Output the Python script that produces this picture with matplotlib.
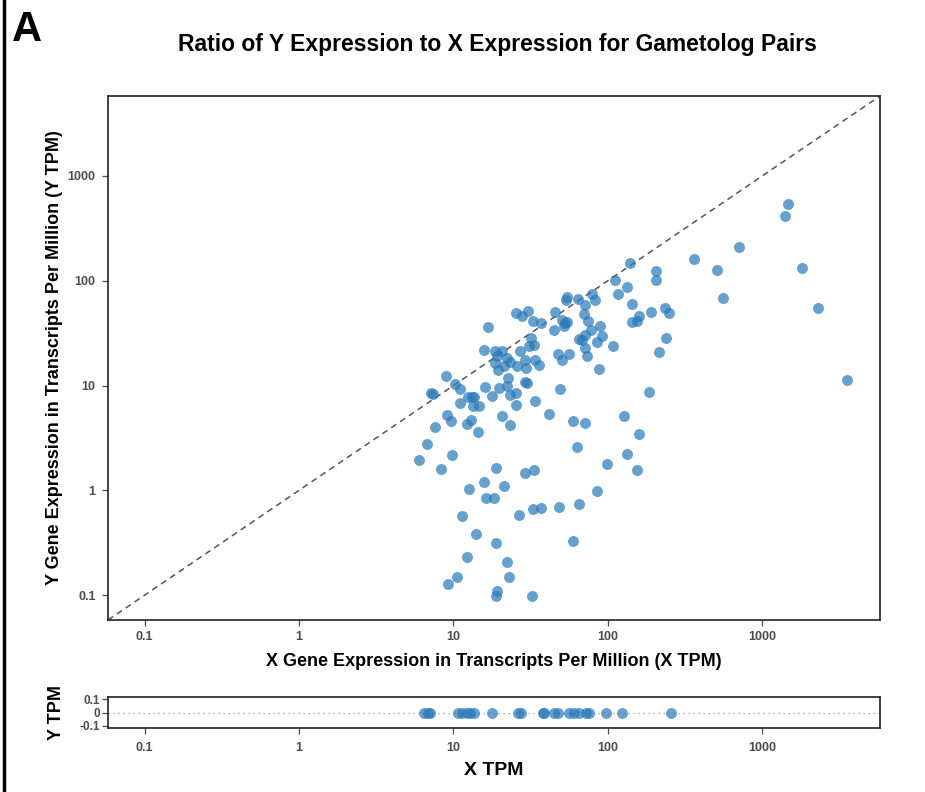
import matplotlib
matplotlib.use("Agg")
import matplotlib.pyplot as plt
from matplotlib.lines import Line2D

plt.rcParams['font.family'] = ['Liberation Sans', 'DejaVu Sans']

# gametolog pairs with Y expression > 0 (TPM)
x_tpm = [1476, 1400, 708, 361, 512, 1803, 560, 2311, 3563, 139,
         111, 206, 206, 134, 116, 79.2, 82.1, 71.1, 143, 191,
         236, 250, 159, 143, 155, 70.3, 74.6, 88.9, 77.7, 71.3,
         67.6, 65.0, 91.6, 84.6, 71.3, 72.9, 108, 238, 214, 87.5,
         184, 128, 71.1, 160,
         54.1, 53.3, 64.0, 25.6, 30.5, 28.0, 45.2, 32.9, 37.0, 50.6,
         52.7, 54.1, 52.2, 45.0, 16.7, 31.6, 33.2, 30.8, 27.2, 15.9,
         18.5, 20.5, 19.1, 22.1, 23.2, 21.4, 18.7, 19.6, 25.9, 29.3,
         33.7, 35.9, 29.6, 47.7, 50.4, 55.7, 8.93, 10.2, 11.0, 7.17,
         7.36, 22.6, 22.1, 16.0, 19.8, 29.0, 29.8, 25.6, 23.2, 17.8,
         12.5, 13.2, 13.6, 11.1, 13.4, 14.7, 25.4, 34.0, 48.9, 9.06,
         9.72, 12.3, 13.0, 20.8, 23.2, 41.5, 59.4, 7.66,
         14.5, 6.75, 6.03, 9.86, 8.37, 63.0, 134, 155, 98.2, 18.8,
         15.7, 12.6, 28.9, 33.5, 21.4, 16.3, 18.3, 85.4, 11.3, 26.8,
         32.7, 37.0, 48.4, 65.3, 14.0, 18.8, 59.7, 12.2, 22.3, 10.5,
         9.29, 22.8, 19.3, 19.0, 32.1]
y_tpm = [537, 413, 209, 161, 128, 133, 67.8, 55.0, 11.2, 149,
         101, 123, 102, 86.3, 75.2, 74.1, 65.5, 58.2, 59.5, 50.7,
         55.0, 49.6, 46.4, 40.7, 41.0, 48.5, 41.6, 36.7, 34.1, 30.4,
         27.4, 28.0, 29.5, 26.2, 23.0, 19.3, 23.9, 28.5, 20.9, 14.4,
         8.77, 5.15, 4.37, 3.42,
         69.3, 64.9, 67.4, 49.2, 51.0, 45.7, 50.7, 41.6, 39.2, 42.5,
         39.5, 40.4, 36.7, 33.6, 36.5, 28.5, 24.2, 23.7, 21.2, 22.0,
         21.2, 21.2, 19.0, 18.4, 16.7, 15.5, 16.5, 14.0, 15.5, 17.4,
         17.7, 15.6, 14.6, 20.2, 17.7, 20.0, 12.3, 10.4, 9.30, 8.52,
         8.39, 11.8, 10.0, 9.63, 9.51, 10.8, 10.5, 8.52, 8.08, 7.91,
         7.85, 7.80, 7.85, 6.78, 6.45, 6.35, 6.55, 7.08, 9.30, 5.26,
         4.64, 4.32, 4.67, 5.18, 4.19, 5.33, 4.61, 4.04,
         3.57, 2.80, 1.97, 2.19, 1.61, 2.62, 2.22, 1.57, 1.77, 1.64,
         1.20, 1.02, 1.45, 1.57, 1.09, 0.845, 0.851, 0.993, 0.565, 0.578,
         0.664, 0.674, 0.700, 0.747, 0.387, 0.318, 0.327, 0.229, 0.208, 0.148,
         0.129, 0.148, 0.109, 0.0993, 0.0993]

# pairs with no Y expression (Y TPM = 0)
x_only = [6.5, 6.8, 7.1, 10.7, 11.3, 12.3, 12.9, 13.6, 17.7, 26.1,
          27.5, 37.8, 38.7, 45.0, 47.5, 55.7, 60.0, 64.9, 72.1, 76.0,
          97.7, 124, 255]

ticks = [0.1, 1, 10, 100, 1000]
tick_labels = ['0.1', '1', '10', '100', '1000']
lims = (0.058, 5800)

dot_color = '#2b7bba'
tick_color = '#4d4d4d'

fig = plt.figure(figsize=(9.25, 7.92), dpi=100)
ax = fig.add_axes([0.1168, 0.2172, 0.8346, 0.6616])
ax2 = fig.add_axes([0.1168, 0.0808, 0.8346, 0.0391])

# main scatter
ax.plot(lims, lims, linestyle=(0, (4, 3)), color='#555555', linewidth=1.1, zorder=1)
ax.scatter(x_tpm, y_tpm, s=62, color=dot_color, alpha=0.72, linewidths=0, zorder=2)
ax.set_xscale('log')
ax.set_yscale('log')
ax.set_xlim(lims)
ax.set_ylim(lims)
ax.set_xticks(ticks)
ax.set_xticklabels(tick_labels)
ax.set_yticks(ticks)
ax.set_yticklabels(tick_labels)
ax.minorticks_off()
ax.set_xlabel('X Gene Expression in Transcripts Per Million (X TPM)',
              fontsize=13, fontweight='bold', labelpad=7)
ax.set_ylabel('Y Gene Expression in Transcripts Per Million (Y TPM)',
              fontsize=13, fontweight='bold', labelpad=3)
fig.text(0.538, 1 - 44 / 792, 'Ratio of Y Expression to X Expression for Gametolog Pairs',
         fontsize=16.5, fontweight='bold', ha='center', va='center')

# strip of genes with zero Y expression
ax2.axhline(0, color='#999999', linestyle=(0, (1, 3)), linewidth=0.9, zorder=1)
ax2.scatter(x_only, [0] * len(x_only), s=62, color=dot_color, alpha=0.72,
            linewidths=0, zorder=2)
ax2.set_xscale('log')
ax2.set_xlim(lims)
ax2.set_ylim(-0.115, 0.115)
ax2.set_xticks(ticks)
ax2.set_xticklabels(tick_labels)
ax2.set_yticks([-0.1, 0, 0.1])
ax2.set_yticklabels(['-0.1', '0', '0.1'])
ax2.minorticks_off()
ax2.set_xlabel('X TPM', fontsize=14, fontweight='bold', labelpad=6)
ax2.set_ylabel('Y TPM', fontsize=13, fontweight='bold', labelpad=10)

for a in (ax, ax2):
    for sp in a.spines.values():
        sp.set_linewidth(1.2)
        sp.set_color('#222222')
    a.tick_params(axis='both', direction='out', length=4, width=0.9,
                  color=tick_color, labelcolor=tick_color, labelsize=9)
    a.tick_params(top=False, right=False)
    for lab in a.get_xticklabels() + a.get_yticklabels():
        lab.set_fontweight('bold')
ax.tick_params(axis='x', pad=4)
ax.tick_params(axis='y', pad=5)
ax2.tick_params(axis='y', labelsize=8.5, pad=2)
ax2.tick_params(axis='x', pad=6)

# panel letter and left border
fig.text(0.013, 0.962, 'A', fontsize=30, fontweight='bold', va='center', ha='left')
fig.add_artist(Line2D([3.5 / 925, 3.5 / 925], [0, 1], transform=fig.transFigure,
                      color='black', linewidth=2.5))

fig.savefig('out.png', dpi=100)
